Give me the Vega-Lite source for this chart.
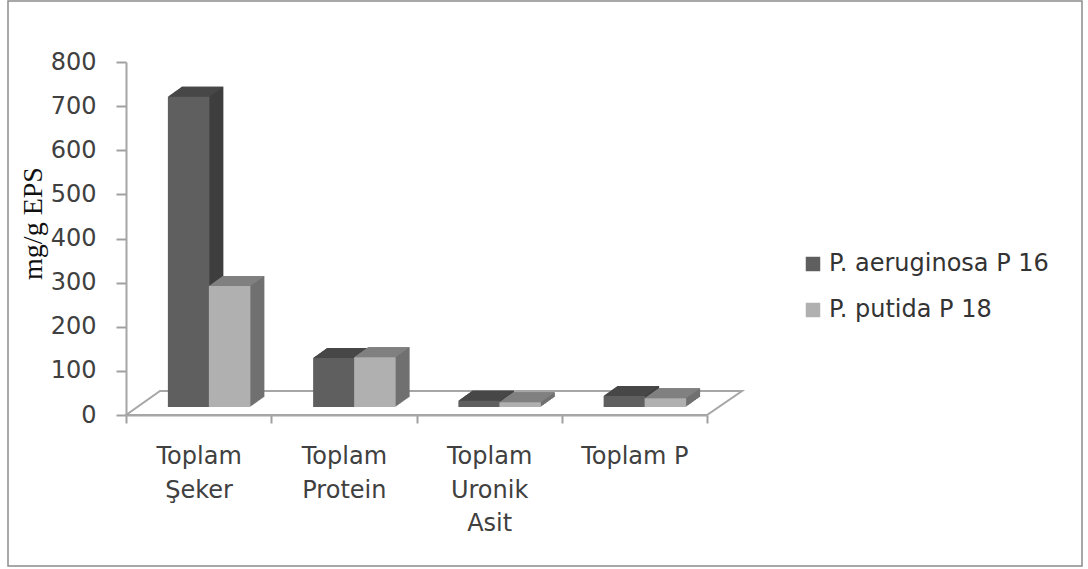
{
  "$schema": "https://vega.github.io/schema/vega-lite/v6.json",
  "width": 581,
  "height": 353,
  "autosize": "none",
  "padding": {"left": 126, "top": 62, "right": 381, "bottom": 154},
  "background": "white",
  "config": {"view": {"stroke": null}},
  "layer": [
    {
      "data": {"values": [{}]},
      "mark": {"type": "point", "size": 4, "filled": false, "opacity": 1, "stroke": "#8c8c8c", "strokeWidth": 1.5, "shape": "M-408.5 -237.5 L665.5 -237.5 L665.5 327.5 L-408.5 327.5 Z"},
      "encoding": {}
    },
    {
      "data": {"values": [{}]},
      "mark": {"type": "point", "size": 4, "filled": false, "opacity": 1, "stroke": "#a6a6a6", "strokeWidth": 2, "shape": "M-290.5 176.5 L-256.5 152.5 L325.5 152.5 L290.5 176.5 Z"},
      "encoding": {}
    },
    {
      "data": {
        "values": [
          {"madde": "Toplam Şeker", "seri": "P. aeruginosa P 16", "deger": 703},
          {"madde": "Toplam Şeker", "seri": "P. putida P 18", "deger": 274},
          {"madde": "Toplam Protein", "seri": "P. aeruginosa P 16", "deger": 111},
          {"madde": "Toplam Protein", "seri": "P. putida P 18", "deger": 113},
          {"madde": "Toplam Uronik Asit", "seri": "P. aeruginosa P 16", "deger": 14},
          {"madde": "Toplam Uronik Asit", "seri": "P. putida P 18", "deger": 11},
          {"madde": "Toplam P", "seri": "P. aeruginosa P 16", "deger": 25},
          {"madde": "Toplam P", "seri": "P. putida P 18", "deger": 20}
        ]
      },
      "encoding": {
        "x": {
          "field": "madde",
          "type": "nominal",
          "sort": null,
          "title": null,
          "scale": {"type": "band", "paddingInner": 0, "paddingOuter": 0},
          "axis": {
            "labelAngle": 0,
            "labelExpr": "datum.label === 'Toplam P' ? datum.label : split(datum.label, ' ')",
            "labelFont": "DejaVu Sans",
            "labelFontSize": 24,
            "labelColor": "#404040",
            "labelLineHeight": 33.5,
            "labelPadding": 21.5,
            "labelLimit": 0,
            "tickBand": "extent",
            "tickSize": 8,
            "tickWidth": 2,
            "tickColor": "#a0a0a0",
            "domainColor": "#a6a6a6",
            "domainWidth": 2
          }
        },
        "y": {
          "field": "deger",
          "type": "quantitative",
          "scale": {"domain": [0, 800], "nice": false},
          "title": "mg/g EPS",
          "axis": {
            "values": [0, 100, 200, 300, 400, 500, 600, 700, 800],
            "grid": false,
            "labelFont": "DejaVu Sans",
            "labelFontSize": 24,
            "labelColor": "#404040",
            "labelPadding": 20,
            "tickSize": 10,
            "tickWidth": 2,
            "tickColor": "#a0a0a0",
            "domainColor": "#a6a6a6",
            "domainWidth": 2,
            "titleFont": "Liberation Serif",
            "titleFontSize": 28,
            "titleFontWeight": "normal",
            "titleColor": "#111111",
            "titleAngle": -90,
            "titleBaseline": "alphabetic",
            "titleAlign": "center",
            "titleX": -85,
            "titleY": 161
          }
        }
      },
      "layer": [
        {
          "transform": [{"filter": "datum.seri === 'P. aeruginosa P 16'"}],
          "layer": [
            {"mark": {"type": "bar", "width": 41.5, "color": "#3f3f3f", "xOffset": 4, "yOffset": -18, "y2Offset": -18}},
            {"mark": {"type": "bar", "width": 41.5, "color": "#3f3f3f", "xOffset": 3, "yOffset": -17.3, "y2Offset": -17.3}},
            {"mark": {"type": "bar", "width": 41.5, "color": "#3f3f3f", "xOffset": 2, "yOffset": -16.6, "y2Offset": -16.6}},
            {"mark": {"type": "bar", "width": 41.5, "color": "#3f3f3f", "xOffset": 1, "yOffset": -15.9, "y2Offset": -15.9}},
            {"mark": {"type": "bar", "width": 41.5, "color": "#3f3f3f", "xOffset": 0.01, "yOffset": -15.1, "y2Offset": -15.1}},
            {"mark": {"type": "bar", "width": 41.5, "color": "#3f3f3f", "xOffset": -1, "yOffset": -14.4, "y2Offset": -14.4}},
            {"mark": {"type": "bar", "width": 41.5, "color": "#3f3f3f", "xOffset": -2, "yOffset": -13.7, "y2Offset": -13.7}},
            {"mark": {"type": "bar", "width": 41.5, "color": "#3f3f3f", "xOffset": -3, "yOffset": -13, "y2Offset": -13}},
            {"mark": {"type": "bar", "width": 41.5, "color": "#3f3f3f", "xOffset": -4, "yOffset": -12.3, "y2Offset": -12.3}},
            {"mark": {"type": "bar", "width": 41.5, "color": "#3f3f3f", "xOffset": -5, "yOffset": -11.6, "y2Offset": -11.6}},
            {"mark": {"type": "bar", "width": 41.5, "color": "#3f3f3f", "xOffset": -6, "yOffset": -10.9, "y2Offset": -10.9}},
            {"mark": {"type": "bar", "width": 41.5, "color": "#3f3f3f", "xOffset": -7, "yOffset": -10.1, "y2Offset": -10.1}},
            {"mark": {"type": "bar", "width": 41.5, "color": "#3f3f3f", "xOffset": -8, "yOffset": -9.4, "y2Offset": -9.4}},
            {"mark": {"type": "bar", "width": 41.5, "color": "#3f3f3f", "xOffset": -9, "yOffset": -8.7, "y2Offset": -8.7}},
            {"mark": {"type": "point", "shape": "M-20.75 0 L-6.75 -10 L34.75 -10 L20.75 0 Z", "size": 4, "filled": true, "opacity": 1, "color": "#474747", "xOffset": -10, "yOffset": -8}},
            {
              "mark": {"type": "bar", "width": 41.5, "xOffset": -10, "yOffset": -8, "y2Offset": -8},
              "encoding": {
                "fill": {
                  "field": "seri",
                  "type": "nominal",
                  "scale": {"domain": ["P. aeruginosa P 16", "P. putida P 18"], "range": ["#5f5f5f", "#b0b0b0"]},
                  "legend": {
                    "title": null,
                    "orient": "none",
                    "legendX": 675,
                    "legendY": 190,
                    "symbolType": "square",
                    "symbolSize": 210,
                    "symbolStrokeWidth": 0,
                    "labelFont": "DejaVu Sans",
                    "labelFontSize": 24,
                    "labelColor": "#333333",
                    "labelOffset": 4,
                    "labelLimit": 0,
                    "rowPadding": 22
                  }
                }
              }
            }
          ]
        },
        {
          "transform": [{"filter": "datum.seri === 'P. putida P 18'"}],
          "layer": [
            {"mark": {"type": "bar", "width": 41.5, "color": "#707070", "xOffset": 45, "yOffset": -18, "y2Offset": -18}},
            {"mark": {"type": "bar", "width": 41.5, "color": "#707070", "xOffset": 44, "yOffset": -17.3, "y2Offset": -17.3}},
            {"mark": {"type": "bar", "width": 41.5, "color": "#707070", "xOffset": 43, "yOffset": -16.6, "y2Offset": -16.6}},
            {"mark": {"type": "bar", "width": 41.5, "color": "#707070", "xOffset": 42, "yOffset": -15.9, "y2Offset": -15.9}},
            {"mark": {"type": "bar", "width": 41.5, "color": "#707070", "xOffset": 41, "yOffset": -15.1, "y2Offset": -15.1}},
            {"mark": {"type": "bar", "width": 41.5, "color": "#707070", "xOffset": 40, "yOffset": -14.4, "y2Offset": -14.4}},
            {"mark": {"type": "bar", "width": 41.5, "color": "#707070", "xOffset": 39, "yOffset": -13.7, "y2Offset": -13.7}},
            {"mark": {"type": "bar", "width": 41.5, "color": "#707070", "xOffset": 38, "yOffset": -13, "y2Offset": -13}},
            {"mark": {"type": "bar", "width": 41.5, "color": "#707070", "xOffset": 37, "yOffset": -12.3, "y2Offset": -12.3}},
            {"mark": {"type": "bar", "width": 41.5, "color": "#707070", "xOffset": 36, "yOffset": -11.6, "y2Offset": -11.6}},
            {"mark": {"type": "bar", "width": 41.5, "color": "#707070", "xOffset": 35, "yOffset": -10.9, "y2Offset": -10.9}},
            {"mark": {"type": "bar", "width": 41.5, "color": "#707070", "xOffset": 34, "yOffset": -10.1, "y2Offset": -10.1}},
            {"mark": {"type": "bar", "width": 41.5, "color": "#707070", "xOffset": 33, "yOffset": -9.4, "y2Offset": -9.4}},
            {"mark": {"type": "bar", "width": 41.5, "color": "#707070", "xOffset": 32, "yOffset": -8.7, "y2Offset": -8.7}},
            {"mark": {"type": "point", "shape": "M-20.75 0 L-6.75 -10 L34.75 -10 L20.75 0 Z", "size": 4, "filled": true, "opacity": 1, "color": "#808080", "xOffset": 31, "yOffset": -8}},
            {
              "mark": {"type": "bar", "width": 41.5, "xOffset": 31, "yOffset": -8, "y2Offset": -8},
              "encoding": {
                "fill": {
                  "field": "seri",
                  "type": "nominal",
                  "scale": {"domain": ["P. aeruginosa P 16", "P. putida P 18"], "range": ["#5f5f5f", "#b0b0b0"]},
                  "legend": {
                    "title": null,
                    "orient": "none",
                    "legendX": 675,
                    "legendY": 190,
                    "symbolType": "square",
                    "symbolSize": 210,
                    "symbolStrokeWidth": 0,
                    "labelFont": "DejaVu Sans",
                    "labelFontSize": 24,
                    "labelColor": "#333333",
                    "labelOffset": 4,
                    "labelLimit": 0,
                    "rowPadding": 22
                  }
                }
              }
            }
          ]
        }
      ]
    }
  ]
}
